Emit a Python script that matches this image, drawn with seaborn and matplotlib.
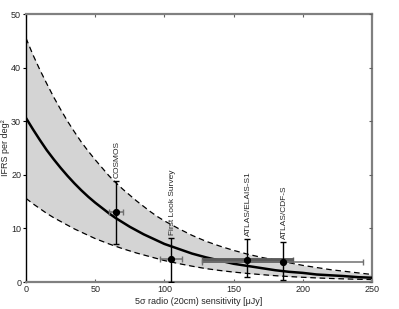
import matplotlib
matplotlib.use("Agg")
import matplotlib.pyplot as plt
import seaborn as sns
import pandas as pd

# === Данные ===
sens = [0, 5, 10, 15, 20, 25, 30, 35, 40, 45, 50, 55, 60, 65, 70, 75, 80, 85, 90, 95,
        100, 110, 120, 130, 140, 150, 160, 170, 180, 190, 200, 210, 220, 230, 240, 250]
model = [30.6, 28.5, 26.5, 24.6, 22.9, 21.3, 19.8, 18.4, 17.1, 15.9, 14.8, 13.8, 12.8,
         11.9, 11.1, 10.3, 9.6, 8.9, 8.3, 7.7,
         7.1, 6.2, 5.3, 4.6, 4.0, 3.4, 3.0, 2.6, 2.2, 1.9, 1.7, 1.4, 1.25, 1.1, 0.9, 0.8]
upper = [45.5, 42.4, 39.6, 37.0, 34.5, 32.2, 30.0, 28.0, 26.1, 24.4, 22.8, 21.3, 19.8,
         18.5, 17.3, 16.2, 15.1, 14.1, 13.1, 12.2,
         11.4, 10.0, 8.7, 7.6, 6.7, 5.9, 5.2, 4.6, 4.1, 3.6, 3.1, 2.7, 2.3, 2.0, 1.7, 1.4]
lower = [15.6, 14.6, 13.7, 12.8, 12.0, 11.3, 10.6, 9.9, 9.3, 8.7, 8.1, 7.6, 7.1,
         6.65, 6.2, 5.8, 5.4, 5.05, 4.7, 4.35,
         4.0, 3.45, 2.95, 2.5, 2.15, 1.85, 1.6, 1.38, 1.18, 1.02, 0.88, 0.76, 0.66, 0.58,
         0.51, 0.45]

surveys = ["COSMOS", "First Look Survey", "ATLAS/ELAIS-S1", "ATLAS/CDF-S"]
surv_x = [65, 105, 160, 185.5]
surv_y = [13.0, 4.2, 4.1, 3.65]
surv_xerr = [5, 8, 33, 58]
surv_yerr_lo = [6.0, 4.2, 3.1, 3.2]
surv_yerr_hi = [5.9, 4.0, 3.9, 3.9]

xticks = [0, 50, 100, 150, 200, 250]
yticks = [0, 10, 20, 30, 40, 50]

df = pd.DataFrame({"sens": sens, "model": model, "upper": upper, "lower": lower})

sns.set_style("white")
plt.rcParams['font.family'] = ['Liberation Sans Narrow', 'Liberation Sans', 'DejaVu Sans']

fig = plt.figure(figsize=(3.99, 3.09), dpi=100)
ax = fig.add_axes([26 / 399, 27 / 309, 346 / 399, 268 / 309])

# Полоса неопределённости
ax.fill_between(df["sens"], df["lower"], df["upper"], color="#d4d4d4", lw=0, zorder=1)
for col in ["upper", "lower"]:
    sns.lineplot(data=df, x="sens", y=col, ax=ax, color="black", lw=0.9, zorder=2)
    ax.lines[-1].set_dashes([4.5, 3])
sns.lineplot(data=df, x="sens", y="model", ax=ax, color="black", lw=1.8, zorder=3)
ax.lines[-1].set_solid_joinstyle("round")

# Точки обзоров
for i, name in enumerate(surveys):
    hlw = 3.5 if name == "ATLAS/ELAIS-S1" else 1.1
    hcol = "#5a5a5a" if name == "ATLAS/ELAIS-S1" else "#707070"
    ax.errorbar(surv_x[i], surv_y[i], xerr=surv_xerr[i], fmt="none",
                ecolor=hcol, elinewidth=hlw, capsize=2.2, capthick=1.0, zorder=4)
    ax.errorbar(surv_x[i], surv_y[i], yerr=[[surv_yerr_lo[i]], [surv_yerr_hi[i]]],
                fmt="o", color="black", ms=4.2, elinewidth=1.0, capsize=2.2,
                capthick=1.0, zorder=5)
    ax.text(surv_x[i] + 1, surv_y[i] + surv_yerr_hi[i] + 0.5, name, rotation=90,
            ha="center", va="bottom", fontsize=6)

ax.set_xlim(0, 250)
ax.set_ylim(0, 50)
ax.set_xticks(xticks)
ax.set_yticks(yticks)
ax.set_xlabel("5σ radio (20cm) sensitivity [μJy]", fontsize=6.5, labelpad=2)
ax.set_ylabel("IFRS per deg²", fontsize=6.5, labelpad=1)

for side in ["top", "right", "bottom"]:
    ax.spines[side].set_color("#808080")
    ax.spines[side].set_linewidth(1.6)
ax.spines["left"].set_color("black")
ax.spines["left"].set_linewidth(1.0)

ax.tick_params(axis="x", direction="in", length=2.5, width=0.8, color="#606060",
               labelsize=6.5, pad=2, top=True, bottom=True)
ax.tick_params(axis="y", direction="out", length=2, width=0.8, color="black",
               labelsize=6.5, pad=1.5, left=True, right=False)

# правые засечки внутрь
ax2 = ax.twinx()
ax2.set_ylim(0, 50)
ax2.set_yticks(yticks)
ax2.tick_params(axis="y", direction="in", length=2.5, width=0.8, color="#606060",
                labelright=False, right=True)
for side in ["top", "right", "bottom", "left"]:
    ax2.spines[side].set_visible(False)

plt.savefig("out.png", dpi=100)
plt.close()
